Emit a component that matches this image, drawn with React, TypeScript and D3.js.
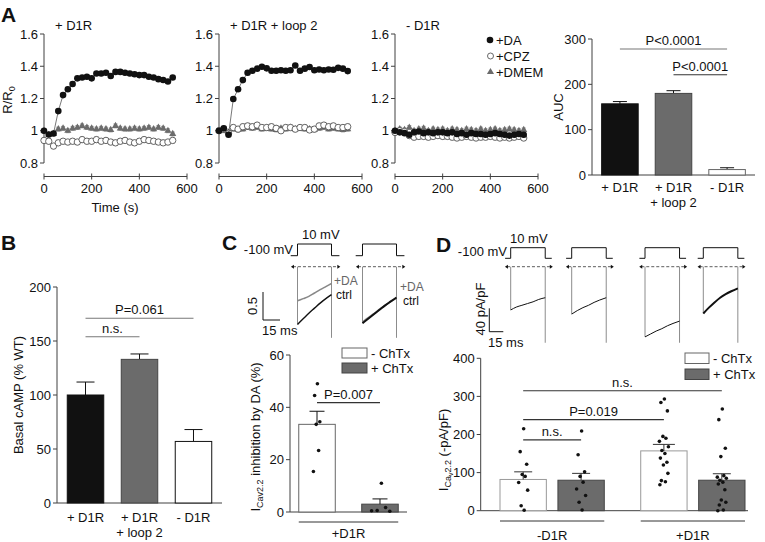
import * as d3 from "d3";

const FONT = "'Liberation Sans', Arial, Helvetica, sans-serif";
const INK = "#111";
const AXIS = "#404040";
const GREY = "#6b6b6b";
const LIGHT = "#8c8c8c";

// ---------- A: R/R0 time courses ----------
const TIMES = [0, 20, 40, 60, 80, 100, 120, 140, 160, 180, 200, 220, 240, 260, 280, 300, 320, 340, 360, 380, 400, 420, 440, 460, 480, 500, 520, 540];

const DA_D1R = [1.0, 0.977, 0.983, 1.122, 1.221, 1.257, 1.29, 1.325, 1.33, 1.335, 1.325, 1.355, 1.355, 1.36, 1.34, 1.365, 1.365, 1.36, 1.355, 1.35, 1.345, 1.345, 1.335, 1.33, 1.32, 1.315, 1.305, 1.33];
const CPZ_D1R = [0.94, 0.935, 0.905, 0.925, 0.935, 0.93, 0.935, 0.93, 0.945, 0.935, 0.935, 0.945, 0.935, 0.94, 0.93, 0.925, 0.935, 0.94, 0.93, 0.925, 0.935, 0.945, 0.94, 0.935, 0.93, 0.925, 0.93, 0.94];
const DMEM_D1R = [1.0, 0.975, 0.98, 1.01, 1.015, 1.0, 1.015, 1.02, 1.03, 1.02, 1.015, 1.01, 1.015, 1.01, 1.005, 1.03, 1.015, 1.01, 1.01, 1.015, 1.01, 1.015, 1.02, 1.01, 1.02, 1.015, 1.0, 0.98];

const DA_LOOP2 = [1.0, 1.015, 0.975, 1.197, 1.257, 1.314, 1.36, 1.372, 1.385, 1.397, 1.387, 1.372, 1.372, 1.375, 1.372, 1.375, 1.405, 1.372, 1.385, 1.395, 1.375, 1.38, 1.375, 1.38, 1.378, 1.39, 1.385, 1.37];
const CPZ_LOOP2 = [1.0, 1.01, 0.985, 1.02, 1.01, 1.025, 1.03, 1.025, 1.035, 1.02, 1.02, 1.025, 1.015, 1.0, 1.02, 1.02, 1.01, 1.02, 1.02, 1.005, 1.01, 1.03, 1.035, 1.025, 1.03, 1.02, 1.02, 1.025];
const DMEM_LOOP2 = [1.0, 1.0, 0.99, 1.01, 1.005, 1.01, 1.02, 1.015, 1.02, 1.01, 1.015, 1.01, 1.005, 1.015, 1.01, 1.02, 1.01, 1.015, 1.01, 1.01, 1.005, 1.015, 1.02, 1.01, 1.015, 1.01, 1.005, 1.01];

const DA_NOD1R = [1.0, 0.99, 0.985, 0.975, 0.99, 0.995, 0.985, 0.99, 0.985, 0.99, 0.99, 0.985, 0.99, 0.98, 0.985, 0.975, 0.985, 0.98, 0.98, 0.975, 0.98, 0.985, 0.98, 0.975, 0.97, 0.975, 0.98, 0.975];
const CPZ_NOD1R = [0.99, 1.0, 0.995, 0.97, 0.96, 0.965, 0.965, 0.96, 0.965, 0.97, 0.965, 0.965, 0.96, 0.955, 0.96, 0.965, 0.96, 0.955, 0.96, 0.96, 0.965, 0.96, 0.955, 0.96, 0.955, 0.96, 0.965, 0.955];
const DMEM_NOD1R = [1.0, 1.01, 1.005, 1.02, 1.0, 1.01, 1.015, 1.0, 1.01, 1.005, 1.01, 1.0, 1.01, 1.005, 1.0, 1.01, 1.005, 1.0, 1.01, 1.0, 1.005, 1.01, 1.0, 1.005, 1.01, 1.005, 1.0, 1.005];

const SEM_DA = 0.012;
const SEM_CPZ = 0.016;
const SEM_DMEM = 0.012;

const A_TITLES = ["+ D1R", "+ D1R + loop 2", "- D1R"];
const A_YTICKS = [0.8, 1, 1.2, 1.4, 1.6];
const A_XTICKS = [0, 200, 400, 600];
const A_LEGEND = ["+DA", "+CPZ", "+DMEM"];

// AUC
const AUC_CATS = [["+ D1R"], ["+ D1R", "+ loop 2"], ["- D1R"]];
const AUC_MEAN = [157, 180, 12];
const AUC_SEM = [5, 6, 4];
const AUC_TICKS = [0, 100, 200, 300];
const AUC_SIG = [
  { a: 0, b: 2, at: 278, label: "P<0.0001" },
  { a: 1, b: 2, at: 221, label: "P<0.0001" },
];

// ---------- B: basal cAMP ----------
const CAMP_CATS = [["+ D1R"], ["+ D1R", "+ loop 2"], ["- D1R"]];
const CAMP_MEAN = [100, 133, 57];
const CAMP_SEM = [12, 5, 11];
const CAMP_TICKS = [0, 50, 100, 150, 200];
const CAMP_SIG = [
  { a: 0, b: 2, at: 171, label: "P=0.061" },
  { a: 0, b: 1, at: 154, label: "n.s." },
];

// ---------- C: traces + inhibition ----------
const C_T = [0, 5, 10, 15, 20, 25, 30];
const C_CTRL = [
  [1.03, 0.93, 0.83, 0.74, 0.65, 0.57, 0.5],
  [1.01, 0.93, 0.85, 0.77, 0.69, 0.62, 0.55],
];
const C_DA = [
  [0.61, 0.57, 0.53, 0.47, 0.41, 0.355, 0.3],
  [0.99, 0.91, 0.84, 0.76, 0.69, 0.62, 0.56],
];
const C_TAIL = 1.27;

const CHTX = ["- ChTx", "+ ChTx"];
const INHIB_MEAN = [33.5, 3];
const INHIB_SEM = [5, 2];
const INHIB_DOTS = [
  [49, 44.5, 34.5, 33.5, 23.5, 15.5],
  [11, 0.5, 0.3, 0.6, 1.7],
];
const INHIB_TICKS = [0, 20, 40, 60];
const INHIB_SIG = { at: 41.8, label: "P=0.007" };

// ---------- D: traces + current density ----------
const D_T = [0, 6, 12, 18, 24, 30, 37];
const D_CURRENT = [
  [74, 69, 66, 63, 60, 56, 53],
  [81, 75, 70, 66, 61, 57, 53],
  [120, 115, 110, 106, 101, 97, 93],
  [80, 70, 61, 53, 47, 42, 37],
];
const D_TAIL = 130;

const D_GROUPS = ["-D1R", "+D1R"];
const DENS_MEAN = [82, 80, 157, 80];
const DENS_SEM = [20, 18, 17, 17];
const DENS_DOTS = [
  [215, 155, 122, 95, 90, 74, 54, 13, 1],
  [209, 147, 102, 90, 75, 57, 40, 22, 2],
  [293, 284, 262, 195, 190, 182, 168, 158, 150, 138, 127, 120, 98, 79, 76, 68],
  [267, 239, 164, 142, 92, 88, 85, 80, 75, 70, 55, 28, 22, 15, 2, 0],
];
const DENS_TICKS = [0, 100, 200, 300, 400];
const DENS_SIG = [
  { a: 0, b: 3, at: 315, label: "n.s." },
  { a: 0, b: 2, at: 239, label: "P=0.019" },
  { a: 0, b: 1, at: 186, label: "n.s." },
];

const JITTER = [0.1, -0.6, 0.7, -0.2, 0.4, -0.9, 0.9, -0.4, 0.2, -0.7, 0.6, -0.1, 0.8, -0.5, 0.3, -0.8];

// ---------- helpers ----------
function YAxis({ x, scale, ticks, fmt }: { x: number; scale: d3.ScaleLinear<number, number>; ticks: number[]; fmt: (v: number) => string }) {
  const [d0, d1] = scale.domain();
  return (
    <g>
      <line x1={x} x2={x} y1={scale(d1)} y2={scale(d0)} stroke={AXIS} />
      {ticks.map((t) => (
        <g key={t}>
          <line x1={x - 4} x2={x} y1={scale(t)} y2={scale(t)} stroke={AXIS} />
          <text x={x - 6} y={scale(t)} dy="0.35em" textAnchor="end">
            {fmt(t)}
          </text>
        </g>
      ))}
    </g>
  );
}

function Sig({ x1, x2, y, label, color = "#555" }: { x1: number; x2: number; y: number; label: string; color?: string }) {
  return (
    <g>
      <line x1={x1} x2={x2} y1={y} y2={y} stroke={color} strokeWidth={1.1} />
      <text x={(x1 + x2) / 2} y={y - 4} textAnchor="middle">
        {label}
      </text>
    </g>
  );
}

function ErrUp({ cx, y0, y1, w, color = INK }: { cx: number; y0: number; y1: number; w: number; color?: string }) {
  return (
    <g stroke={color} strokeWidth={1}>
      <line x1={cx} x2={cx} y1={y0} y2={y1} />
      <line x1={cx - w / 2} x2={cx + w / 2} y1={y1} y2={y1} />
    </g>
  );
}

function TimeCourse({ left, title, da, cpz, dmem, legend }: { left: number; title: string; da: number[]; cpz: number[]; dmem: number[]; legend?: boolean }) {
  const x = d3.scaleLinear().domain([0, 600]).range([left, left + 143]);
  const y = d3.scaleLinear().domain([0.8, 1.6]).range([163, 34]);
  const axisY = y(0.8) + 13.5;
  const line = d3.line<number>().x((_, i) => x(TIMES[i])).y((v) => y(v));
  const tri = d3.symbol(d3.symbolTriangle, 22)()!;
  const errs = (vals: number[], sem: number, color: string) =>
    vals.map((v, i) => {
      const cx = x(TIMES[i]);
      return (
        <g key={i} stroke={color} strokeWidth={0.7}>
          <line x1={cx} x2={cx} y1={y(v - sem)} y2={y(v + sem)} />
          <line x1={cx - 2} x2={cx + 2} y1={y(v - sem)} y2={y(v - sem)} />
          <line x1={cx - 2} x2={cx + 2} y1={y(v + sem)} y2={y(v + sem)} />
        </g>
      );
    });
  return (
    <g>
      <YAxis x={left} scale={y} ticks={A_YTICKS} fmt={(v) => (v === 1 ? "1" : v.toFixed(1))} />
      <line x1={x(0)} x2={x(600)} y1={axisY} y2={axisY} stroke={AXIS} />
      {A_XTICKS.map((t) => (
        <g key={t}>
          <line x1={x(t)} x2={x(t)} y1={axisY - 3} y2={axisY + 3} stroke={AXIS} />
          <text x={x(t)} y={axisY + 16} textAnchor="middle">
            {t}
          </text>
        </g>
      ))}
      <text x={left + 11} y={30}>
        {title}
      </text>
      {errs(dmem, SEM_DMEM, GREY)}
      {dmem.map((v, i) => (
        <path key={"t" + i} d={tri} transform={`translate(${x(TIMES[i])},${y(v)})`} fill={GREY} />
      ))}
      {errs(cpz, SEM_CPZ, "#555")}
      {cpz.map((v, i) => (
        <circle key={"c" + i} cx={x(TIMES[i])} cy={y(v)} r={3.2} fill="#fff" stroke="#444" strokeWidth={0.8} />
      ))}
      <path d={line(da)!} fill="none" stroke="#555" strokeWidth={0.8} />
      {errs(da, SEM_DA, INK)}
      {da.map((v, i) => (
        <circle key={"d" + i} cx={x(TIMES[i])} cy={y(v)} r={3.3} fill={INK} />
      ))}
      {legend &&
        A_LEGEND.map((lab, i) => {
          const ly = 40 + i * 16;
          return (
            <g key={lab}>
              {i === 0 && <circle cx={490} cy={ly} r={3.3} fill={INK} />}
              {i === 1 && <circle cx={490.5} cy={ly} r={3} fill="#fff" stroke="#444" strokeWidth={0.8} />}
              {i === 2 && <path d={tri} transform={`translate(490.5,${ly})`} fill={GREY} />}
              <text x={496} y={ly} dy="0.36em">
                {lab}
              </text>
            </g>
          );
        })}
    </g>
  );
}

type Curve = { values: number[]; color: string; width: number };
function Trace({ x0, pxPerMs, pxPerUnit, zeroY, protoY, stepMs, times, curves, tail }: {
  x0: number; pxPerMs: number; pxPerUnit: number; zeroY: number; protoY: [number, number];
  stepMs: number; times: number[]; curves: Curve[]; tail: number;
}) {
  const x = d3.scaleLinear().domain([0, 1]).range([x0, x0 + pxPerMs]);
  const y = d3.scaleLinear().domain([0, 1]).range([zeroY, zeroY + pxPerUnit]);
  const v = d3.scaleLinear().domain([-100, 10]).range(protoY);
  const proto = `M${x(-6)},${v(-100)}H${x(0)}V${v(10)}H${x(stepMs)}V${v(-100)}H${x(stepMs + 7)}`;
  const line = d3.line<number>().x((_, i) => x(times[i])).y((d) => y(d)).curve(d3.curveMonotoneX);
  const peak = Math.max(...curves.map((c) => c.values[0]));
  const xl = x(-4);
  const xr = x(stepMs + 6);
  return (
    <g>
      <path d={proto} fill="none" stroke={INK} strokeWidth={1} />
      <line x1={xl} x2={xr} y1={zeroY} y2={zeroY} stroke="#333" strokeWidth={0.8} strokeDasharray="3,2" />
      <path d={`M${xl - 2},${zeroY}l3,-2v4z`} fill={INK} />
      <path d={`M${xr + 2},${zeroY}l-3,-2v4z`} fill={INK} />
      <line x1={x(0)} x2={x(0)} y1={zeroY} y2={y(peak)} stroke={LIGHT} strokeWidth={1} />
      <line x1={x(stepMs)} x2={x(stepMs)} y1={zeroY} y2={y(tail)} stroke={LIGHT} strokeWidth={1} />
      {curves.map((c, i) => (
        <path key={i} d={line(c.values)!} fill="none" stroke={c.color} strokeWidth={c.width} />
      ))}
    </g>
  );
}

export default function App() {
  // ---- A: AUC
  const aucY = d3.scaleLinear().domain([0, 300]).range([175, 39]);
  const aucX = d3.scaleBand<number>().domain([0, 1, 2]).range([592, 755]).paddingInner(0.318).paddingOuter(0.18);
  const fills3 = [INK, GREY, "#fff"];
  const strokes3 = [INK, "#444", "#666"];

  // ---- B
  const campY = d3.scaleLinear().domain([0, 200]).range([503, 287]);
  const campX = d3.scaleBand<number>().domain([0, 1, 2]).range([57, 222]).paddingInner(0.324).paddingOuter(0.19);

  // ---- C
  const inhY = d3.scaleLinear().domain([0, 60]).range([512, 355]);
  const inhX = d3.scaleBand<string>().domain(CHTX).range([290, 407]).paddingInner(0.42).paddingOuter(0.139);
  const cOrigins = [297.5, 362.5];
  const cMs = 17 / 15;
  const cUnit = 56;

  // ---- D
  const dY = d3.scaleLinear().domain([0, 400]).range([510.7, 358.3]);
  const dGroup = d3.scaleBand<string>().domain(D_GROUPS).range([500, 745]).paddingInner(0.259);
  const dInner = d3.scaleBand<string>().domain(CHTX).range([0, dGroup.bandwidth()]).paddingInner(0.2);
  const dBarX = (i: number) => dGroup(D_GROUPS[Math.floor(i / 2)])! + dInner(CHTX[i % 2])!;
  const dOrigins = [510.7, 571.7, 645, 703.3];
  const dMs = 14 / 15;
  const dUnit = 23.4 / 40;

  return (
    <svg
      width={765}
      height={542}
      viewBox="0 0 765 542"
      style={{ position: "absolute", left: 0, top: 0 }}
      fontFamily={FONT}
      fontSize={13}
      fill={INK}
    >
      <rect width={765} height={542} fill="#fff" />

      {/* ===== A ===== */}
      <text x={1} y={22} fontSize={21} fontWeight="bold">A</text>
      <text transform="translate(12,100) rotate(-90)" textAnchor="middle">
        R/R<tspan dy={3} fontSize={9}>0</tspan>
      </text>
      <TimeCourse left={44} title={A_TITLES[0]} da={DA_D1R} cpz={CPZ_D1R} dmem={DMEM_D1R} />
      <TimeCourse left={219} title={A_TITLES[1]} da={DA_LOOP2} cpz={CPZ_LOOP2} dmem={DMEM_LOOP2} />
      <TimeCourse left={395} title={A_TITLES[2]} da={DA_NOD1R} cpz={CPZ_NOD1R} dmem={DMEM_NOD1R} legend />
      <text x={115} y={212} textAnchor="middle">Time (s)</text>

      {/* AUC */}
      <YAxis x={592} scale={aucY} ticks={AUC_TICKS} fmt={(v) => String(v)} />
      <line x1={592} x2={755} y1={aucY(0)} y2={aucY(0)} stroke={AXIS} />
      <text transform={`translate(563,${(aucY(0) + aucY(300)) / 2}) rotate(-90)`} textAnchor="middle">AUC</text>
      {AUC_MEAN.map((m, i) => {
        const bx = aucX(i)!;
        const bw = aucX.bandwidth();
        return (
          <g key={i}>
            <ErrUp cx={bx + bw / 2} y0={aucY(m)} y1={aucY(m + AUC_SEM[i])} w={14} />
            <rect x={bx} y={aucY(m)} width={bw} height={aucY(0) - aucY(m)} fill={fills3[i]} stroke={strokes3[i]} />
            {AUC_CATS[i].map((s, k) => (
              <text key={k} x={bx + bw / 2} y={192 + k * 15} textAnchor="middle">{s}</text>
            ))}
          </g>
        );
      })}
      {AUC_SIG.map((s, i) => (
        <Sig key={i} x1={aucX(s.a)! + aucX.bandwidth() / 2} x2={aucX(s.b)! + aucX.bandwidth() / 2} y={aucY(s.at)} label={s.label} color={i === 0 ? "#777" : "#333"} />
      ))}

      {/* ===== B ===== */}
      <text x={1} y={250} fontSize={21} fontWeight="bold">B</text>
      <YAxis x={57} scale={campY} ticks={CAMP_TICKS} fmt={(v) => String(v)} />
      <line x1={57} x2={222} y1={campY(0)} y2={campY(0)} stroke={AXIS} />
      <text transform={`translate(23,${(campY(0) + campY(200)) / 2}) rotate(-90)`} textAnchor="middle">Basal cAMP (% WT)</text>
      {CAMP_MEAN.map((m, i) => {
        const bx = campX(i)!;
        const bw = campX.bandwidth();
        return (
          <g key={i}>
            <ErrUp cx={bx + bw / 2} y0={campY(m)} y1={campY(m + CAMP_SEM[i])} w={18} />
            <rect x={bx} y={campY(m)} width={bw} height={campY(0) - campY(m)} fill={fills3[i]} stroke={i === 2 ? INK : strokes3[i]} />
            {CAMP_CATS[i].map((s, k) => (
              <text key={k} x={bx + bw / 2} y={522 + k * 15} textAnchor="middle">{s}</text>
            ))}
          </g>
        );
      })}
      {CAMP_SIG.map((s, i) => (
        <Sig key={i} x1={campX(s.a)! + campX.bandwidth() / 2} x2={campX(s.b)! + campX.bandwidth() / 2} y={campY(s.at)} label={s.label} color="#777" />
      ))}

      {/* ===== C ===== */}
      <text x={222} y={250} fontSize={21} fontWeight="bold">C</text>
      <text x={293} y={254} textAnchor="end">-100 mV</text>
      <text x={302} y={239}>10 mV</text>
      {cOrigins.map((o, i) => (
        <Trace
          key={i}
          x0={o}
          pxPerMs={cMs}
          pxPerUnit={cUnit}
          zeroY={266.7}
          protoY={[255.7, 244]}
          stepMs={30}
          times={C_T}
          tail={C_TAIL}
          curves={[
            { values: C_DA[i], color: "#888", width: 1.6 },
            { values: C_CTRL[i], color: INK, width: i === 1 ? 2 : 1.4 },
          ]}
        />
      ))}
      <g fontSize={12}>
        <text x={334} y={285} fill="#666">+DA</text>
        <text x={336} y={299}>ctrl</text>
        <text x={400} y={291} fill="#666">+DA</text>
        <text x={403} y={305}>ctrl</text>
      </g>
      {/* scale bar C */}
      <path d={`M263,${320 - 0.5 * cUnit}V320H${263 + 15 * cMs}`} fill="none" stroke={INK} />
      <text transform="translate(257,306) rotate(-90)" textAnchor="middle">0.5</text>
      <text x={262} y={335}>15 ms</text>

      {/* C bars */}
      <YAxis x={290} scale={inhY} ticks={INHIB_TICKS} fmt={(v) => String(v)} />
      <line x1={290} x2={407} y1={inhY(0)} y2={inhY(0)} stroke={AXIS} />
      <text transform={`translate(260,437) rotate(-90)`} textAnchor="middle">
        I<tspan dy={3} fontSize={9}>Cav2.2</tspan>
        <tspan dy={-3}> inhibition by DA (%)</tspan>
      </text>
      {CHTX.map((g, i) => {
        const bx = inhX(g)!;
        const bw = inhX.bandwidth();
        const cx = bx + bw / 2;
        const spread = i === 0 ? 4 : 14;
        return (
          <g key={g}>
            <rect x={bx} y={inhY(INHIB_MEAN[i])} width={bw} height={inhY(0) - inhY(INHIB_MEAN[i])} fill={i === 0 ? "#fff" : GREY} stroke={i === 0 ? "#666" : "#444"} />
            <ErrUp cx={cx} y0={inhY(INHIB_MEAN[i])} y1={inhY(INHIB_MEAN[i] + INHIB_SEM[i])} w={15} />
            {INHIB_DOTS[i].map((d, k) => (
              <circle key={k} cx={cx + JITTER[k % JITTER.length] * spread} cy={inhY(d)} r={1.8} fill={INK} />
            ))}
          </g>
        );
      })}
      <Sig x1={inhX(CHTX[0])! + inhX.bandwidth() / 2} x2={inhX(CHTX[1])! + inhX.bandwidth() / 2} y={inhY(INHIB_SIG.at)} label={INHIB_SIG.label} color="#333" />
      <line x1={inhX(CHTX[0])!} x2={inhX(CHTX[1])! + inhX.bandwidth()} y1={522} y2={522} stroke="#333" />
      <text x={(inhX(CHTX[0])! + inhX(CHTX[1])! + inhX.bandwidth()) / 2} y={538} textAnchor="middle">+D1R</text>
      {CHTX.map((g, i) => (
        <g key={g}>
          <rect x={342} y={348 + i * 15} width={25} height={10} fill={i === 0 ? "#fff" : GREY} stroke={i === 0 ? "#666" : "#444"} />
          <text x={371} y={358 + i * 15}>{g}</text>
        </g>
      ))}

      {/* ===== D ===== */}
      <text x={436} y={252} fontSize={21} fontWeight="bold">D</text>
      <text x={507} y={256} textAnchor="end">-100 mV</text>
      <text x={510} y={243}>10 mV</text>
      {dOrigins.map((o, i) => (
        <Trace
          key={i}
          x0={o}
          pxPerMs={dMs}
          pxPerUnit={dUnit}
          zeroY={266.7}
          protoY={[258.3, 247.7]}
          stepMs={37}
          times={D_T}
          tail={D_TAIL}
          curves={[{ values: D_CURRENT[i], color: INK, width: i === 3 ? 2 : 1 }]}
        />
      ))}
      <path d={`M489.3,${331.7 - 40 * dUnit}V331.7H${489.3 + 15 * dMs}`} fill="none" stroke={INK} />
      <text transform="translate(485,309) rotate(-90)" textAnchor="middle">40 pA/pF</text>
      <text x={488} y={347}>15 ms</text>

      {/* D bars */}
      <YAxis x={480.7} scale={dY} ticks={DENS_TICKS} fmt={(v) => String(v)} />
      <line x1={480.7} x2={748} y1={dY(0)} y2={dY(0)} stroke={AXIS} />
      <text transform={`translate(448,450) rotate(-90)`} textAnchor="middle">
        I<tspan dy={3} fontSize={9}>Ca</tspan>
        <tspan dy={2} fontSize={7}>v</tspan>
        <tspan dy={-2} fontSize={9}>2.2</tspan>
        <tspan dy={-3}> (-pA/pF)</tspan>
      </text>
      {DENS_MEAN.map((m, i) => {
        const bx = dBarX(i);
        const bw = dInner.bandwidth();
        const cx = bx + bw / 2;
        const white = i % 2 === 0;
        return (
          <g key={i}>
            <rect x={bx} y={dY(m)} width={bw} height={dY(0) - dY(m)} fill={white ? "#fff" : GREY} stroke={white ? "#999" : "#444"} />
            <ErrUp cx={cx} y0={dY(m)} y1={dY(m + DENS_SEM[i])} w={i === 2 ? 22 : 18} color="#333" />
            {DENS_DOTS[i].map((d, k) => (
              <circle key={k} cx={cx + JITTER[k % JITTER.length] * 5} cy={dY(d)} r={1.8} fill={INK} />
            ))}
          </g>
        );
      })}
      {DENS_SIG.map((s, i) => (
        <Sig key={i} x1={dBarX(s.a) + dInner.bandwidth() / 2} x2={dBarX(s.b) + dInner.bandwidth() / 2} y={dY(s.at)} label={s.label} color="#333" />
      ))}
      {D_GROUPS.map((g) => (
        <g key={g}>
          <line x1={dGroup(g)!} x2={dGroup(g)! + dGroup.bandwidth()} y1={521} y2={521} stroke="#333" />
          <text x={dGroup(g)! + dGroup.bandwidth() / 2} y={540} textAnchor="middle">{g}</text>
        </g>
      ))}
      {CHTX.map((g, i) => (
        <g key={g}>
          <rect x={685} y={353 + i * 16} width={24} height={10.5} fill={i === 0 ? "#fff" : GREY} stroke={i === 0 ? "#666" : "#444"} />
          <text x={713} y={363 + i * 16}>{g}</text>
        </g>
      ))}
    </svg>
  );
}
